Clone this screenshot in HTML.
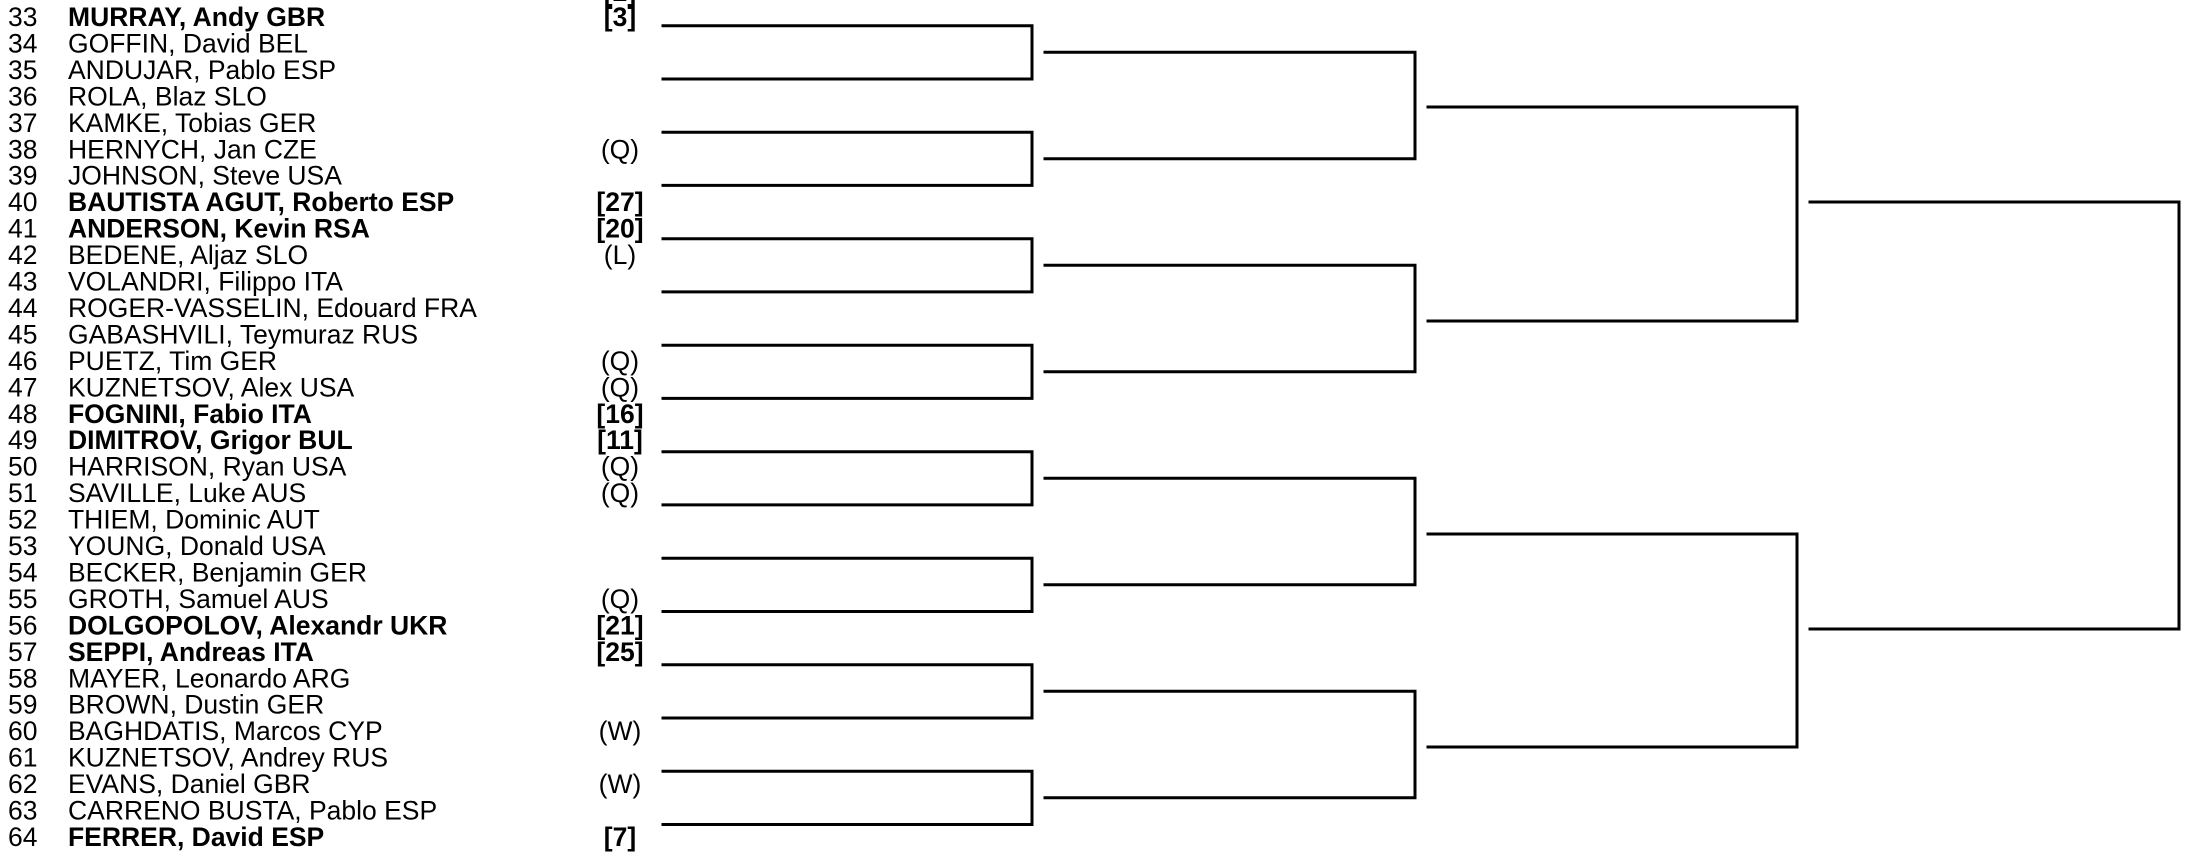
<!DOCTYPE html>
<html><head><meta charset="utf-8"><style>
html,body{margin:0;padding:0;background:#fff;}
svg{display:block;}
text{font-family:"Liberation Sans",Arial,sans-serif;font-size:26.5px;fill:#000;}
.b{font-weight:bold;}
</style></head><body>
<svg width="2188" height="860" viewBox="0 0 2188 860" xmlns="http://www.w3.org/2000/svg">
<g id="t"></g>
<g id="l" stroke="#000" stroke-width="3" fill="none" stroke-linecap="square"></g>
</svg>
<script>
var rows=[
[33,"MURRAY, Andy GBR",1,"[3]"],[34,"GOFFIN, David BEL",0,""],[35,"ANDUJAR, Pablo ESP",0,""],[36,"ROLA, Blaz SLO",0,""],
[37,"KAMKE, Tobias GER",0,""],[38,"HERNYCH, Jan CZE",0,"(Q)"],[39,"JOHNSON, Steve USA",0,""],[40,"BAUTISTA AGUT, Roberto ESP",1,"[27]"],
[41,"ANDERSON, Kevin RSA",1,"[20]"],[42,"BEDENE, Aljaz SLO",0,"(L)"],[43,"VOLANDRI, Filippo ITA",0,""],[44,"ROGER-VASSELIN, Edouard FRA",0,""],
[45,"GABASHVILI, Teymuraz RUS",0,""],[46,"PUETZ, Tim GER",0,"(Q)"],[47,"KUZNETSOV, Alex USA",0,"(Q)"],[48,"FOGNINI, Fabio ITA",1,"[16]"],
[49,"DIMITROV, Grigor BUL",1,"[11]"],[50,"HARRISON, Ryan USA",0,"(Q)"],[51,"SAVILLE, Luke AUS",0,"(Q)"],[52,"THIEM, Dominic AUT",0,""],
[53,"YOUNG, Donald USA",0,""],[54,"BECKER, Benjamin GER",0,""],[55,"GROTH, Samuel AUS",0,"(Q)"],[56,"DOLGOPOLOV, Alexandr UKR",1,"[21]"],
[57,"SEPPI, Andreas ITA",1,"[25]"],[58,"MAYER, Leonardo ARG",0,""],[59,"BROWN, Dustin GER",0,""],[60,"BAGHDATIS, Marcos CYP",0,"(W)"],
[61,"KUZNETSOV, Andrey RUS",0,""],[62,"EVANS, Daniel GBR",0,"(W)"],[63,"CARRENO BUSTA, Pablo ESP",0,""],[64,"FERRER, David ESP",1,"[7]"]];
var NS="http://www.w3.org/2000/svg",t=document.getElementById("t"),l=document.getElementById("l");
function tx(x,y,s,b,a){var e=document.createElementNS(NS,"text");e.setAttribute("x",x);e.setAttribute("y",y);if(b)e.setAttribute("class","b");if(a)e.setAttribute("text-anchor",a);e.textContent=s;t.appendChild(e);}
tx(620,1,"[2]",1,"middle");
rows.forEach(function(r,i){var y=(26+i*26.45).toFixed(1);tx(8,y,r[0],0);tx(68,y,r[1],r[2]);if(r[3])tx(620,y,r[3],r[2],"middle");});
var d="";
function br(x1,x2,ya,yb){d+="M"+x1+" "+ya+"H"+x2+"V"+yb+"H"+x1+" ";}
for(var k=0;k<8;k++){var a=25.7+53.25*2*k,b=a+53.25;br(663,1032,a.toFixed(1),b.toFixed(1));}
var r2=[];for(var k=0;k<8;k++)r2.push(52.3+106.5*k);
for(var k=0;k<4;k++)br(1045,1415,r2[2*k].toFixed(1),r2[2*k+1].toFixed(1));
var r3=[107,321,534,747];
br(1428,1797,r3[0],r3[1]);br(1428,1797,r3[2],r3[3]);
br(1810,2179,202,629);
var p=document.createElementNS(NS,"path");p.setAttribute("d",d);l.appendChild(p);
</script>
</body></html>
